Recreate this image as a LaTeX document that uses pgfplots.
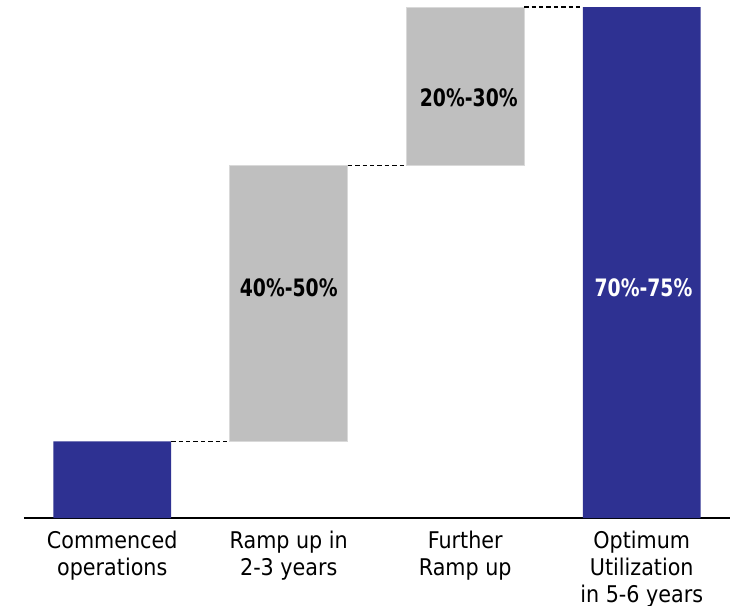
\documentclass[border=0pt]{standalone}
\usepackage{pgfplots}
\pgfplotsset{compat=1.18}
\usepackage{fontspec}
\setmainfont{DejaVu Sans Condensed}
\definecolor{barblue}{HTML}{2E3192}
\definecolor{bargray}{HTML}{BFBFBF}
\definecolor{baredge}{HTML}{D9D9D9}
\pgfplotsset{
  frame/.style={
    at={(0,0)}, anchor=south west,
    scale only axis, width=353pt, height=255.5pt,
    xmin=-0.5, xmax=3.5, ymin=0, ymax=100,
    clip=false,
  },
}
\newcommand{\rangelabel}[1]{\scalebox{0.87}[1]{\bfseries\fontsize{12}{14}\selectfont #1}}
\begin{document}
\begin{tikzpicture}
\path[use as bounding box] (-12pt,-44pt) rectangle (353pt,259pt);
\begin{axis}[
  frame,
  ybar stacked, bar width=0.668,
  axis x line*=bottom, axis y line=none,
  x axis line style={-, line width=1pt, black},
  xtick={0,1,2,3},
  xticklabels={Commenced\\operations, Ramp up in\\2-3 years, Further\\Ramp up, Optimum\\Utilization\\in 5-6 years},
  major tick length=0pt,
  xticklabel style={align=center, font=\fontsize{11.5}{13.5}\selectfont, yshift=-3pt},
  ytick=\empty,
]
% invisible offsets that lift the floating bars
\addplot[draw=none, fill=none] coordinates {(0,0) (1,15) (2,69) (3,0)};
% increments
\addplot[fill=bargray, draw=baredge, line width=0.5pt] coordinates {(0,0) (1,54) (2,31) (3,0)};
% totals
\addplot[fill=barblue, draw=none] coordinates {(0,15) (1,0) (2,0) (3,100)};
\end{axis}
% connectors and range labels on the same frame
\begin{axis}[frame, hide axis]
\addplot[black, line width=0.6pt, dash pattern=on 2.2pt off 1.5pt] coordinates {(0.334,15) (0.666,15)};
\addplot[black, line width=0.6pt, dash pattern=on 2.2pt off 1.5pt] coordinates {(1.334,69) (1.666,69)};
\addplot[black, line width=0.6pt, dash pattern=on 2.2pt off 1.5pt] coordinates {(2.334,100) (2.666,100)};
\node[text=black] at (axis cs:1,45) {\rangelabel{40\%-50\%}};
\node[text=black] at (axis cs:2.02,82.2) {\rangelabel{20\%-30\%}};
\node[text=white] at (axis cs:3.01,45) {\rangelabel{70\%-75\%}};
\end{axis}
\end{tikzpicture}
\end{document}
